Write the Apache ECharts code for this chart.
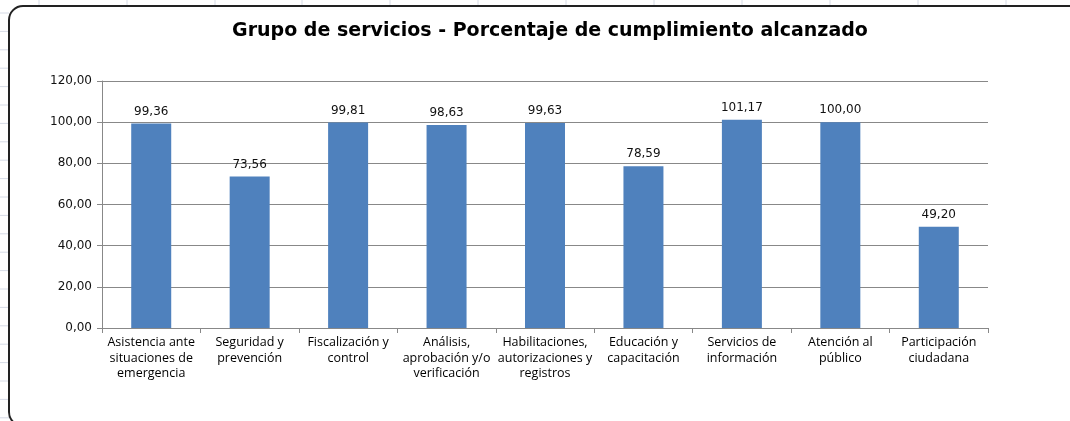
<!DOCTYPE html>
<html>
<head>
<meta charset="utf-8">
<script src="https://cdn.jsdelivr.net/npm/echarts@6/dist/echarts.min.js"></script>
<style>
  html, body { margin: 0; padding: 0; background: #fff; }
  #chart { width: 1070px; height: 421px; }
</style>
</head>
<body>
<div id="chart"></div>
<script>
var categories = [
  "Asistencia ante\nsituaciones de\nemergencia",
  "Seguridad y\nprevención",
  "Fiscalización y\ncontrol",
  "Análisis,\naprobación y/o\nverificación",
  "Habilitaciones,\nautorizaciones y\nregistros",
  "Educación y\ncapacitación",
  "Servicios de\ninformación",
  "Atención al\npúblico",
  "Participación\nciudadana"
];
var cumplimiento = [99.36, 73.56, 99.81, 98.63, 99.63, 78.59, 101.17, 100.00, 49.20];
var yTicks = { min: 0, max: 120, interval: 20 };

var myChart = echarts.init(document.getElementById("chart"));

function fmt(v) {
  return v.toFixed(2).replace(".", ",");
}

// faint spreadsheet gridlines peeking out behind the chart frame
var sheetLines = [];
for (var y = 13; y < 421; y += 18.4) {
  sheetLines.push({ type: "line", shape: { x1: 0, y1: y, x2: 9, y2: y }, style: { stroke: "#d6dbe6", lineWidth: 1 }, z: -1 });
}
[39, 127, 215, 302, 390, 478, 566, 654, 742, 830, 918, 1006].forEach(function (x) {
  sheetLines.push({ type: "line", shape: { x1: x, y1: 0, x2: x, y2: 6 }, style: { stroke: "#d6dbe6", lineWidth: 1 }, z: -1 });
});

var option = {
  animation: false,
  title: {
    text: "Grupo de servicios - Porcentaje de cumplimiento alcanzado",
    left: 545,
    textAlign: "center",
    top: 17,
    textStyle: { fontFamily: "DejaVu Sans", fontSize: 19, fontWeight: "bold", color: "#000" }
  },
  graphic: sheetLines.concat([
    {
      type: "rect",
      shape: { x: 9, y: 6, width: 1080, height: 420, r: 14 },
      style: { fill: "#fff", stroke: "#222", lineWidth: 2 },
      z: 0
    }
  ]),
  grid: { left: 102, right: 82, top: 81, bottom: 93 },
  xAxis: {
    type: "category",
    data: categories,
    axisLine: { lineStyle: { color: "#888" } },
    axisTick: { show: true, length: 5, lineStyle: { color: "#888" } },
    axisLabel: {
      interval: 0,
      color: "#000",
      fontFamily: "Open Sans",
      fontSize: 12.5,
      lineHeight: 15.5,
      margin: 7
    }
  },
  yAxis: {
    type: "value",
    min: yTicks.min,
    max: yTicks.max,
    interval: yTicks.interval,
    axisLine: { show: true, lineStyle: { color: "#888" } },
    axisTick: { show: true, length: 5, lineStyle: { color: "#888" } },
    splitLine: { lineStyle: { color: "#888" } },
    axisLabel: {
      formatter: fmt,
      color: "#111",
      fontFamily: "DejaVu Sans",
      fontSize: 12,
      margin: 10
    }
  },
  series: [
    {
      type: "bar",
      data: cumplimiento,
      barWidth: 40,
      itemStyle: { color: "#4f81bd" },
      label: {
        show: true,
        position: "top",
        distance: 6,
        formatter: function (p) { return fmt(p.value); },
        color: "#111",
        fontFamily: "DejaVu Sans",
        fontSize: 12
      }
    }
  ]
};

myChart.setOption(option);
</script>
</body>
</html>
